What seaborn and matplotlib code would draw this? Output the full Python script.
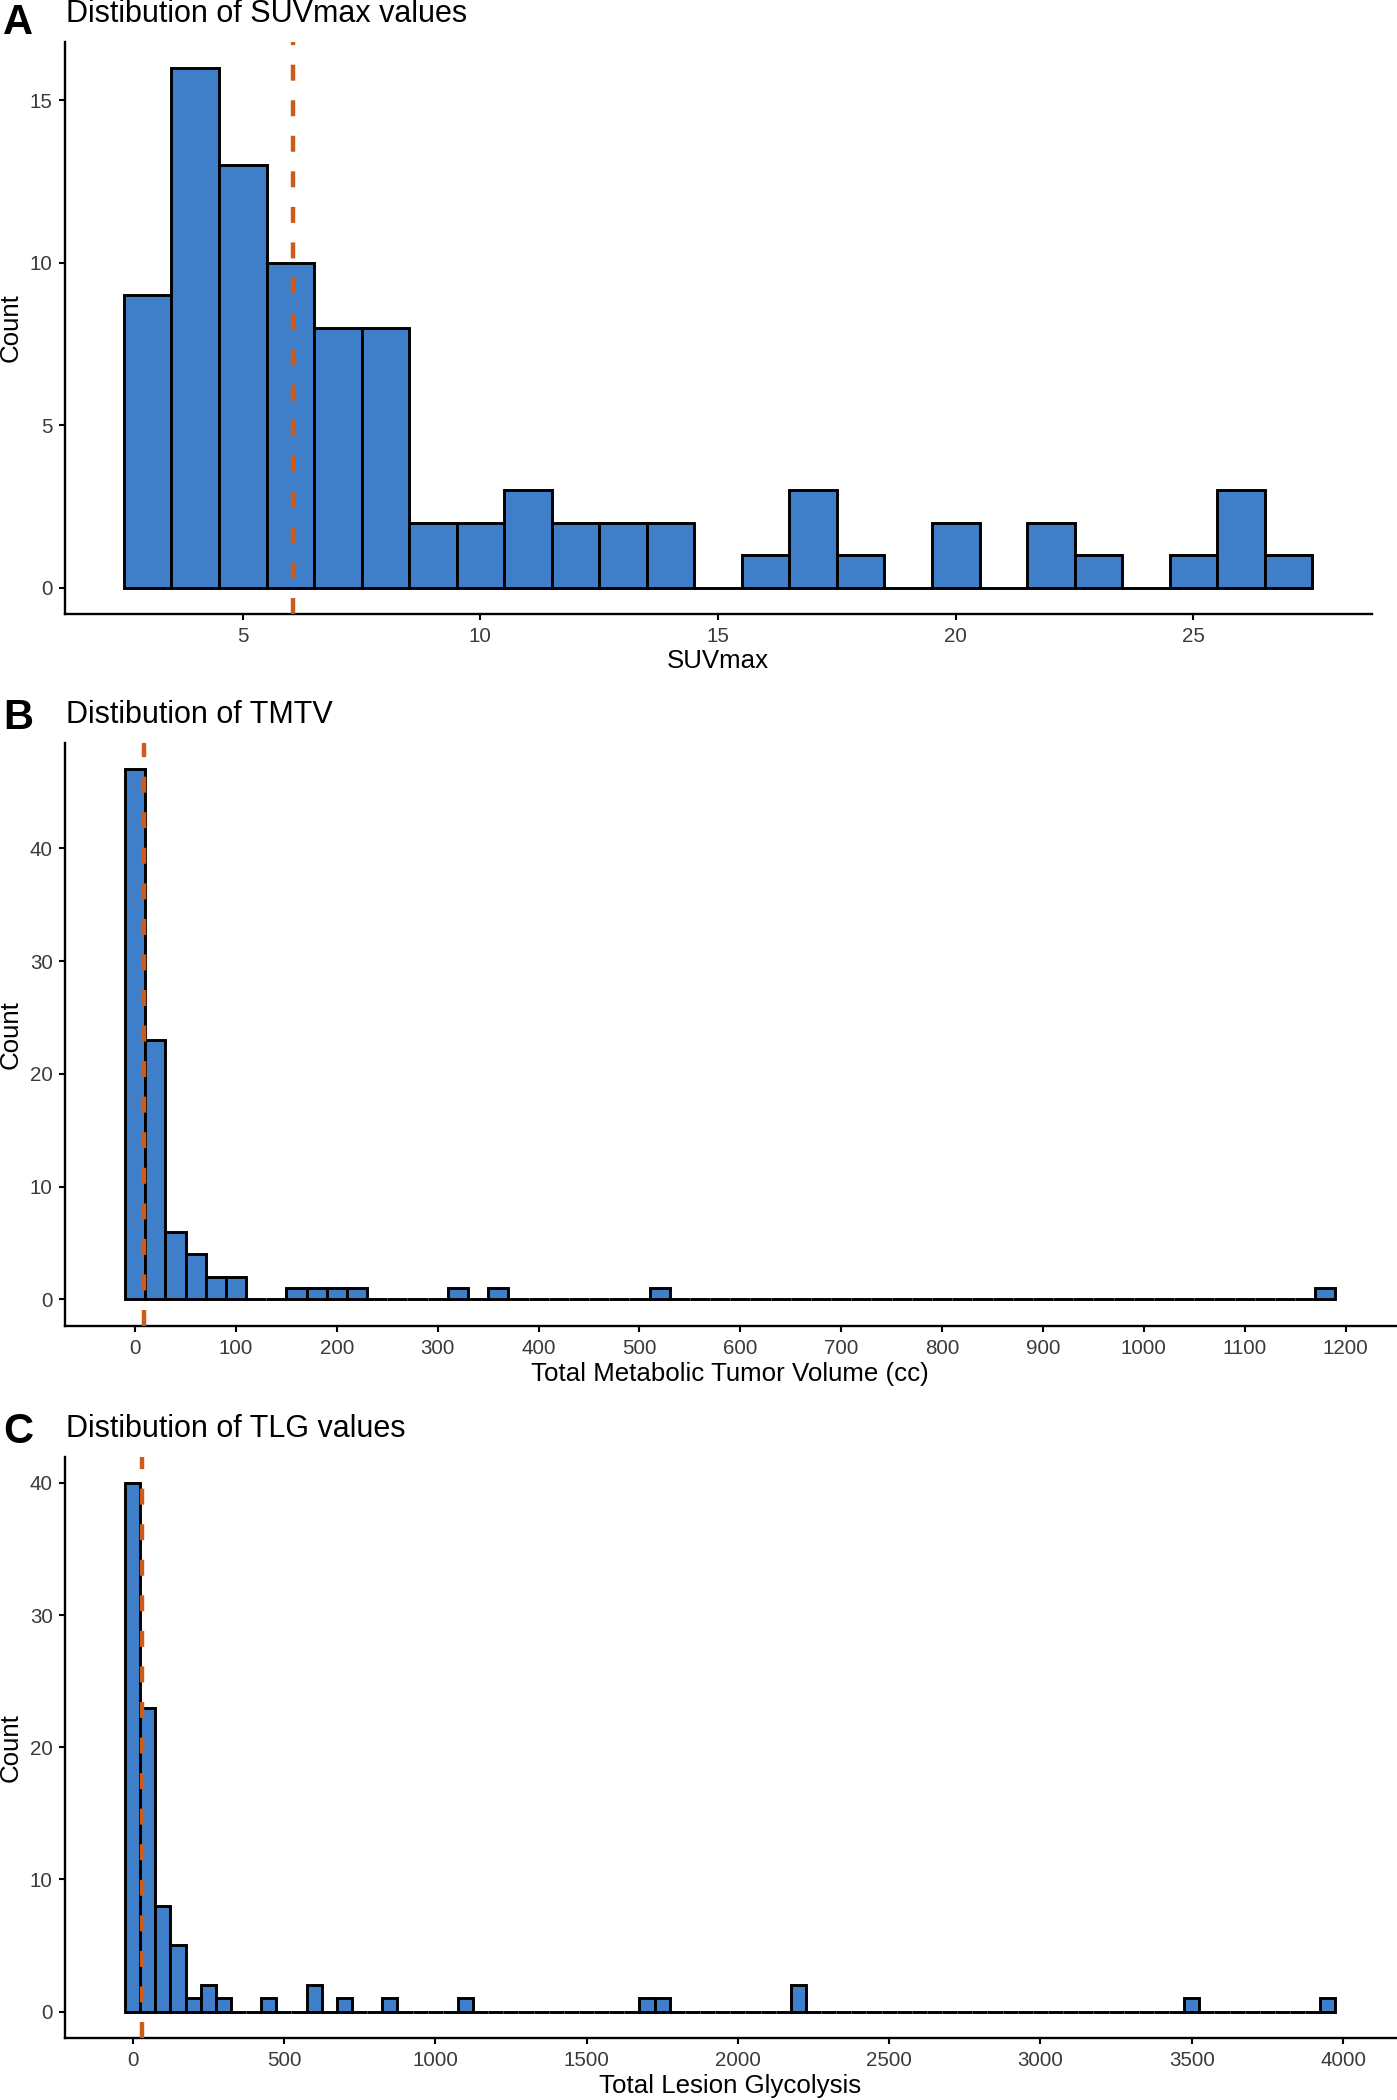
import numpy as np
import pandas as pd
import matplotlib
matplotlib.use("Agg")
import matplotlib.pyplot as plt
import seaborn as sns

# ---------------- data ----------------
suv_centers = [3, 4, 5, 6, 7, 8, 9, 10, 11, 12, 13, 14, 15, 16, 17, 18, 19, 20, 21, 22, 23, 24, 25, 26, 27]
suv_counts = [9, 16, 13, 10, 8, 8, 2, 2, 3, 2, 2, 2, 0, 1, 3, 1, 0, 2, 0, 2, 1, 0, 1, 3, 1]
suv_binwidth = 1
suv_median = 6.05
suv_xticks = [5, 10, 15, 20, 25]
suv_yticks = [0, 5, 10, 15]

tmtv_centers = [0, 20, 40, 60, 80, 100, 160, 180, 200, 220, 320, 360, 520, 1180]
tmtv_counts = [47, 23, 6, 4, 2, 2, 1, 1, 1, 1, 1, 1, 1, 1]
tmtv_binwidth = 20
tmtv_median = 9
tmtv_xticks = list(range(0, 1201, 100))
tmtv_yticks = [0, 10, 20, 30, 40]

tlg_centers = [0, 50, 100, 150, 200, 250, 300, 450, 600, 700, 850, 1100, 1700, 1750, 2200, 3500, 3950]
tlg_counts = [40, 23, 8, 5, 1, 2, 1, 1, 2, 1, 1, 1, 1, 1, 2, 1, 1]
tlg_binwidth = 50
tlg_median = 32
tlg_xticks = list(range(0, 4001, 500))
tlg_yticks = [0, 10, 20, 30, 40]

panels = [
    dict(letter="A", title="Distibution of SUVmax values", xlabel="SUVmax",
         centers=suv_centers, counts=suv_counts, bw=suv_binwidth, med=suv_median,
         xticks=suv_xticks, yticks=suv_yticks,
         box=(64.5, 42.0, 1371.7, 613.5), title_base=22, letter_base=34),
    dict(letter="B", title="Distibution of TMTV", xlabel="Total Metabolic Tumor Volume (cc)",
         centers=tmtv_centers, counts=tmtv_counts, bw=tmtv_binwidth, med=tmtv_median,
         xticks=tmtv_xticks, yticks=tmtv_yticks,
         box=(64.5, 743.0, 1396.0, 1325.7), title_base=723, letter_base=729),
    dict(letter="C", title="Distibution of TLG values", xlabel="Total Lesion Glycolysis",
         centers=tlg_centers, counts=tlg_counts, bw=tlg_binwidth, med=tlg_median,
         xticks=tlg_xticks, yticks=tlg_yticks,
         box=(64.5, 1456.5, 1396.0, 2038.0), title_base=1436.7, letter_base=1443),
]

# ---------------- style ----------------
sns.set_theme(style="ticks")
plt.rcParams["font.family"] = ["Liberation Sans", "DejaVu Sans"]
plt.rcParams["axes.linewidth"] = 1.65

FILL = "#3F7FCA"
VLINE = "#CD5C1C"
TICKTXT = "#3A3A3A"

W, H = 1397, 2100
fig = plt.figure(figsize=(W / 100, H / 100), dpi=100)
fig.patch.set_facecolor("white")

for p in panels:
    x0, y0, x1, y1 = p["box"]
    ax = fig.add_axes([x0 / W, 1 - y1 / H, (x1 - x0) / W, (y1 - y0) / H])
    df = pd.DataFrame({"value": np.array(p["centers"], dtype=float),
                       "count": np.array(p["counts"], dtype=float)})
    bw = p["bw"]
    lo = float(df["value"].min() - bw / 2)
    hi = float(df["value"].max() + bw / 2)

    sns.histplot(data=df, x="value", weights="count", binwidth=bw,
                 binrange=(lo, hi), ax=ax,
                 color=FILL, edgecolor="black", linewidth=2.1, alpha=1.0,
                 zorder=2)
    ax.axvline(p["med"], color=VLINE, linewidth=3.2, linestyle=(0, (3.6, 4.4)),
               zorder=3)

    span = hi - lo
    ax.set_xlim(lo - 0.05 * span, hi + 0.05 * span)
    ymax = df["count"].max()
    ax.set_ylim(-0.05 * ymax, ymax * 1.05)
    ax.set_xticks(p["xticks"])
    ax.set_yticks(p["yticks"])
    ax.set_xticklabels([str(t) for t in p["xticks"]])
    ax.set_yticklabels([str(t) for t in p["yticks"]])

    for s in ["top", "right"]:
        ax.spines[s].set_visible(False)
    for s in ["left", "bottom"]:
        ax.spines[s].set_linewidth(1.7)
        ax.spines[s].set_color("black")
    ax.tick_params(axis="both", which="major", length=4.5, width=1.5,
                   color="black", labelsize=14.8, labelcolor=TICKTXT)
    ax.tick_params(axis="x", pad=5.0)
    ax.tick_params(axis="y", pad=4.0)
    ax.grid(False)
    ax.set_facecolor("white")

    ax_h = y1 - y0
    ax_w = x1 - x0
    ax.set_xlabel(p["xlabel"], fontsize=18.6, color="black", va="baseline")
    ax.xaxis.set_label_coords(0.5, -55.0 / ax_h)
    ax.set_ylabel("Count", fontsize=18.6, color="black", va="center")
    ax.yaxis.set_label_coords((11.0 - x0) / ax_w, 0.5)

    fig.text(66 / W, 1 - p["title_base"] / H, p["title"], fontsize=22,
             color="black", ha="left", va="baseline")
    fig.text(3 / W, 1 - p["letter_base"] / H, p["letter"], fontsize=30,
             fontweight="bold", color="black", ha="left", va="baseline")

fig.savefig("out.png", dpi=100, facecolor="white")
